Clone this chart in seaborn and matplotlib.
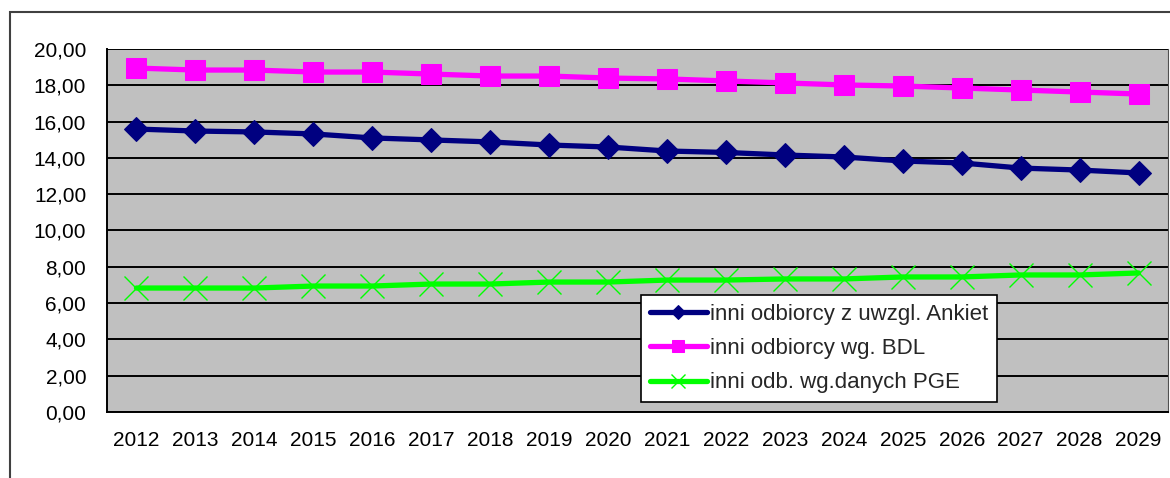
import numpy as np
import pandas as pd
import seaborn as sns
import matplotlib.pyplot as plt
from matplotlib.patches import Rectangle
from matplotlib.ticker import FuncFormatter

# chart data
years = list(range(2012, 2030))
ankiety = [15.59, 15.48, 15.43, 15.32, 15.10, 14.99, 14.88, 14.71, 14.60,
           14.38, 14.30, 14.16, 14.05, 13.83, 13.72, 13.44, 13.33, 13.17]
bdl = [18.95, 18.84, 18.84, 18.73, 18.73, 18.62, 18.51, 18.51, 18.40,
       18.35, 18.24, 18.13, 18.02, 17.96, 17.85, 17.74, 17.63, 17.52]
pge = [6.83, 6.83, 6.83, 6.94, 6.94, 7.05, 7.05, 7.16, 7.16,
       7.27, 7.27, 7.33, 7.33, 7.44, 7.44, 7.55, 7.55, 7.66]
labels = ['inni odbiorcy z uwzgl. Ankiet', 'inni odbiorcy wg. BDL',
          'inni odb. wg.danych PGE']

sns.set_style('white')
plt.rcParams['font.family'] = ['Liberation Sans', 'DejaVu Sans']

fig = plt.figure(figsize=(11.7, 4.78), dpi=100)
# outer chart border (runs off the right and bottom edges)
fig.patches.append(Rectangle((10 / 1170, -0.1), 1.2, 1 - 12 / 478 + 0.1,
                             transform=fig.transFigure, fill=False,
                             edgecolor='#404040', linewidth=1.5))
ax = fig.add_axes([107 / 1170, 1 - 412 / 478, 1061 / 1170, 363 / 478])
ax.set_facecolor('#C0C0C0')

pos = np.arange(len(years))
df = pd.DataFrame({'pos': pos, 'ankiety': ankiety, 'bdl': bdl, 'pge': pge})

sns.lineplot(data=df, x='pos', y='ankiety', ax=ax, color='#000080', lw=3.8,
             marker='D', markersize=12, markeredgecolor='#000080',
             label=labels[0])
sns.lineplot(data=df, x='pos', y='bdl', ax=ax, color='#FF00FF', lw=3.8,
             marker='s', markersize=14, markeredgecolor='#FF00FF',
             label=labels[1])
sns.lineplot(data=df, x='pos', y='pge', ax=ax, color='#00FF00', lw=3.8,
             marker='x', markersize=17, markeredgewidth=1,
             markeredgecolor='#00FF00', label=labels[2])

ax.set_xlim(-0.5, len(years) - 0.5)
ax.set_ylim(0, 20)
ax.set_yticks(np.arange(0, 21, 2))
ax.yaxis.set_major_formatter(FuncFormatter(lambda v, p: f'{v:.2f}'.replace('.', ',')))
ax.grid(axis='y', color='black', linewidth=1.4)
ax.set_axisbelow(True)

ax.set_xticks(np.arange(-0.5, len(years), 1))
ax.set_xticklabels([])
ax.set_xticks(pos, minor=True)
ax.set_xticklabels([str(y) for y in years], minor=True)
ax.tick_params(axis='x', which='major', direction='out', length=7, width=1.2,
               colors='black')
ax.tick_params(axis='x', which='minor', length=0, pad=14, labelsize=15,
               labelcolor='black')
ax.tick_params(axis='y', direction='out', length=7, width=1.2, labelsize=15,
               pad=8, colors='black')
ax.set_xlabel('')
ax.set_ylabel('')

for s in ['left', 'bottom']:
    ax.spines[s].set_color('black')
    ax.spines[s].set_linewidth(1.4)
ax.spines['top'].set_visible(False)
ax.spines['right'].set_color('#505050')

leg = ax.legend(loc='lower left', bbox_to_anchor=(0.503, 0.027),
                fancybox=False, framealpha=1, edgecolor='black',
                fontsize=16, handlelength=2.6, handletextpad=0.1,
                labelspacing=0.6, borderpad=0.4, borderaxespad=0,
                markerscale=0.6)
leg.get_frame().set_linewidth(1.2)

fig.savefig('out.png', dpi=100)
